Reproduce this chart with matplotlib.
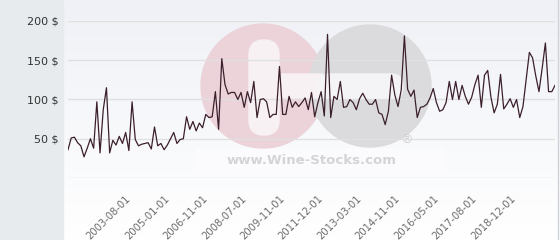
import numpy as np
import matplotlib
matplotlib.use("Agg")
import matplotlib.pyplot as plt
from matplotlib.patches import Circle, FancyBboxPatch, Rectangle
from matplotlib.lines import Line2D

prices = [
    36, 51, 52, 45, 41, 27, 38, 50, 38, 97, 32, 87, 115, 32, 48, 42, 53, 44, 58, 35,
    97, 49, 41, 43, 44, 45, 37, 65, 41, 44, 36, 42, 50, 58, 44, 49, 50, 78, 62, 72,
    60, 70, 64, 81, 77, 78, 110, 62, 152, 119, 107, 109, 109, 100, 109, 90, 110, 96, 123, 77,
    100,
    101, 97, 77, 81, 81, 142, 81, 81, 104, 90, 97, 91, 96, 102, 87, 109, 78, 96, 110, 79,
    183, 77, 104, 100, 123, 90, 91, 100, 96, 87, 101, 108, 100, 94, 94, 100, 83, 81, 68, 85,
    131, 106, 91, 112, 181, 113, 104, 112, 77, 90, 91, 94, 102, 114, 96, 85, 87, 96, 123, 100,
    123, 100,
    118, 104, 94, 103, 119, 131, 90, 131, 137, 103, 83, 94, 132, 88, 94, 101, 90, 100, 77, 91,
    125, 160, 153, 130, 110, 140, 172, 110, 110, 118,
]
tick_labels = ["2003-08-01", "2005-01-01", "2006-11-01", "2008-07-01", "2009-11-01",
               "2011-12-01", "2013-03-01", "2014-11-01", "2016-05-01", "2017-08-01",
               "2018-12-01"]
first_tick = 18
tick_step = 12
y_ticks = [50, 100, 150, 200]

W, H = 560, 240
fig = plt.figure(figsize=(W / 100, H / 100), dpi=100)

# background / watermark layer in pixel coordinates
bg = fig.add_axes([0, 0, 1, 1], zorder=0)
bg.set_xlim(0, W)
bg.set_ylim(H, 0)
bg.axis("off")
grad = np.linspace(0, 1, 100).reshape(-1, 1)
top = np.array([0.937, 0.945, 0.965])
bot = np.array([1.0, 1.0, 1.0])
img = top[None, None, :] * (1 - grad[:, :, None]) + bot[None, None, :] * grad[:, :, None]
bg.imshow(img, extent=[63, W, H, 0], aspect="auto", zorder=0)
bg.add_patch(Rectangle((0, 0), 63, H, color="#e7ebee", zorder=1))
bg.add_line(Line2D([558, 558], [0, H], color="#cfd3d8", lw=1, zorder=1))

# logo watermark
bg.add_patch(Rectangle((195, 148), 250, 26, color="#fbfbfd", zorder=1))
bg.add_patch(Circle((263, 86), 62, color="#ecd3da", zorder=2))
bg.add_patch(Circle((370, 86), 61, color="#dbdbde", zorder=3))
bg.add_patch(FancyBboxPatch((249, 40), 30, 95, boxstyle="round,pad=0,rounding_size=15",
                            color="#f7f1f4", zorder=4))
bg.add_patch(FancyBboxPatch((263, 74), 60, 24, boxstyle="round,pad=0,rounding_size=0",
                            color="#f7f1f4", zorder=4))
bg.add_patch(FancyBboxPatch((318, 74), 85, 25, boxstyle="round,pad=0,rounding_size=12",
                            color="#f4f4f6", zorder=4))
bg.text(312, 161, "www.Wine-Stocks.com", fontsize=9.5, fontweight="bold",
        color="#d4d4d6", ha="center", va="center", zorder=5)
bg.text(407, 140, "®", fontsize=9, color="#cfcfd2", ha="center", va="center", zorder=5)

# main chart
ax = fig.add_axes([68 / W, (H - 178) / H, 487 / W, 157 / H], zorder=2)
ax.patch.set_alpha(0)
x = np.arange(len(prices))
ax.plot(x, prices, color="#3b1f2b", lw=0.9, zorder=3)
ax.set_xlim(0, len(prices) - 1)
ax.set_ylim(0, 200)
ax.set_yticks([0] + y_ticks)
ax.set_yticklabels([""] + [f"{v} $" for v in y_ticks])
ax.grid(axis="y", color="#e0e0e0", lw=1)
ax.set_axisbelow(True)
for s in ax.spines.values():
    s.set_visible(False)
ticks = [first_tick + i * tick_step for i in range(len(tick_labels))]
ax.set_xticks(ticks)
ax.set_xticklabels(tick_labels, rotation=45, ha="right", va="top",
                   rotation_mode="anchor", fontsize=7.2, color="#6b6b6b")
ax.tick_params(axis="x", length=0, pad=11)
ax.tick_params(axis="y", length=0, pad=7, labelsize=8, labelcolor="#333333")

fig.savefig("out.png", dpi=100)
